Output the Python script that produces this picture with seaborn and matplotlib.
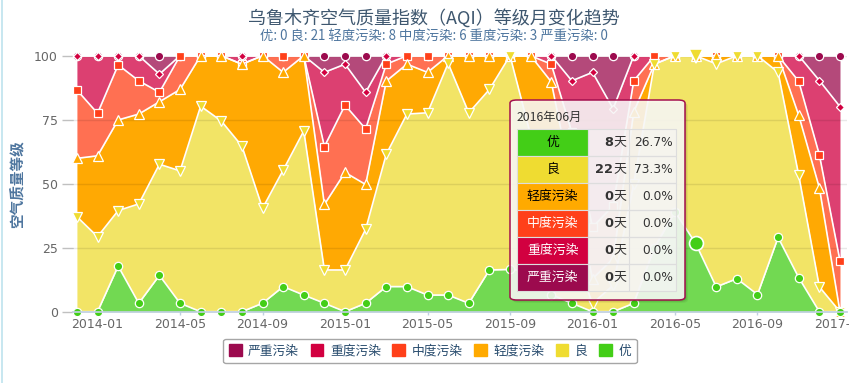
import matplotlib
matplotlib.use("Agg")
import matplotlib.pyplot as plt
from matplotlib.patches import FancyBboxPatch, Rectangle, Patch
from matplotlib.lines import Line2D
from matplotlib.transforms import Bbox
import numpy as np
import seaborn as sns

months = [
    "2013-12",
    "2014-01", "2014-02", "2014-03", "2014-04", "2014-05", "2014-06",
    "2014-07", "2014-08", "2014-09", "2014-10", "2014-11", "2014-12",
    "2015-01", "2015-02", "2015-03", "2015-04", "2015-05", "2015-06",
    "2015-07", "2015-08", "2015-09", "2015-10", "2015-11", "2015-12",
    "2016-01", "2016-02", "2016-03", "2016-04", "2016-05", "2016-06",
    "2016-07", "2016-08", "2016-09", "2016-10", "2016-11", "2016-12",
    "2017-01",
]
tick_labels = ["2014-01", "2014-05", "2014-09", "2015-01", "2015-05",
               "2015-09", "2016-01", "2016-05", "2016-09", "2017-01"]

# percentage of days per month for each level (bottom to top)
excellent = [0, 0, 17.8, 3.3, 14.2, 3.3, 0, 0, 0, 3.3, 9.8, 6.5, 3.3,
             0, 3.3, 9.8, 9.8, 6.5, 6.5, 3.3, 16.3, 16.5, 16.1, 6.7, 3.3,
             0, 0, 3.3, 25.0, 39.0, 26.7, 9.7, 12.9, 6.7, 29.0, 13.3, 0, 0]
good = [37.1, 29.3, 21.7, 38.8, 43.4, 51.7, 80.3, 74.5, 64.7, 37.1, 45.5,
        64.1, 13.0, 16.3, 28.9, 51.7, 67.4, 71.2, 90.5, 74.4, 70.5, 83.5,
        52.9, 41.3, 21.7, 3.2, 10.3, 46.7, 71.7, 61.0, 73.3, 87.1, 87.1,
        93.3, 64.5, 40.0, 9.7, 0]
light = [22.8, 31.6, 35.4, 35.1, 24.4, 31.8, 19.7, 25.5, 32.0, 59.6, 38.2,
         29.4, 25.6, 38.1, 17.5, 28.6, 19.5, 15.8, 3.0, 22.3, 13.2, 0,
         31.0, 41.8, 25.0, 9.7, 10.4, 28.1, 0, 0, 0, 3.2, 0, 0, 6.5, 23.4,
         38.7, 0]
moderate = [26.7, 16.6, 21.5, 13.0, 3.7, 13.2, 0, 0, 0, 0, 6.5, 0, 22.6,
            26.3, 21.7, 6.6, 3.3, 6.5, 0, 0, 0, 0, 0, 6.9, 20.0, 20.1,
            20.7, 12.1, 3.3, 0, 0, 0, 0, 0, 0, 13.3, 12.9, 19.9]
heavy = [13.4, 22.5, 3.6, 9.8, 7.1, 0, 0, 0, 3.3, 0, 0, 0, 29.0, 16.0,
         14.3, 3.3, 0, 0, 0, 0, 0, 0, 0, 3.3, 20.2, 60.5, 37.9, 9.8, 0, 0,
         0, 0, 0, 0, 0, 10.0, 29.0, 60.2]
severe = [0, 0, 0, 0, 7.2, 0, 0, 0, 0, 0, 0, 0, 6.5, 3.3, 14.3, 0, 0, 0, 0,
          0, 0, 0, 0, 0, 9.8, 6.5, 20.7, 0, 0, 0, 0, 0, 0, 0, 0, 0, 9.7,
          19.9]

levels = ["优", "良", "轻度污染", "中度污染", "重度污染", "严重污染"]
colors = ["#43CE17", "#EFDC31", "#FFAA00", "#FF401A", "#D20040", "#9C0A4E"]
fills = ["#72D952", "#F2E466", "#FFA903", "#FF7052", "#DC4071", "#B4497A"]
markers = ["o", "v", "^", "s", "D", "o"]
msizes = [6.0, 6.5, 6.5, 5.5, 4.5, 6.0]

# tooltip for the hovered month
hover_idx = 30
tip_title = "2016年06月"
tip_days = ["8", "22", "0", "0", "0", "0"]
tip_pct = ["26.7%", "73.3%", "0.0%", "0.0%", "0.0%", "0.0%"]

subtitle = "优: 0 良: 21 轻度污染: 8 中度污染: 6 重度污染: 3 严重污染: 0"

sns.set_theme(style="white")
plt.rcParams["font.family"] = ["Noto Sans CJK SC", "DejaVu Sans"]

W, H = 868, 383
fig = plt.figure(figsize=(W / 100, H / 100), dpi=100)


def fx(px):
    return px / W


def fy(py):
    return 1 - py / H


ax = fig.add_axes([fx(73), fy(311.7), fx(847) - fx(73), fy(55.7) - fy(311.7)])

x = np.arange(len(months))
stack = np.array([excellent, good, light, moderate, heavy, severe])
cum = np.cumsum(stack, axis=0)

for i in range(len(levels)):
    base = cum[i - 1] if i else np.zeros(len(x))
    ax.fill_between(x, base, cum[i], color=fills[i], lw=0, zorder=1)

for yv in [25, 50, 75, 100]:
    ax.axhline(yv, color="#000000", alpha=0.09, lw=1, zorder=2)

for i in range(len(levels)):
    sns.lineplot(x=x, y=cum[i], ax=ax, color="white", lw=1.2,
                 marker=markers[i], markersize=msizes[i],
                 markerfacecolor=colors[i], markeredgecolor="white",
                 markeredgewidth=0.9, zorder=10 - i, clip_on=False)

# enlarged hover markers
for i in [0, 1]:
    ax.plot(x[hover_idx], cum[i][hover_idx], marker=markers[i],
            markersize=10, markerfacecolor=colors[i],
            markeredgecolor="white", markeredgewidth=1.2, zorder=12,
            clip_on=False)

ax.set_xlim(-0.19, 37.34)
ax.set_ylim(0, 100)
ax.set_yticks([0, 25, 50, 75, 100])
ax.set_xticks([months.index(t) for t in tick_labels])
ax.set_xticklabels(tick_labels)
ax.tick_params(axis="y", left=True, length=8, width=1, color="#C0C0C0",
               labelsize=9, labelcolor="#666666", pad=3)
ax.tick_params(axis="x", bottom=True, length=5, width=1, color="#C0D0E0",
               direction="inout", labelsize=9, labelcolor="#666666", pad=2)
for lab in ax.get_xticklabels() + ax.get_yticklabels():
    lab.set_family("DejaVu Sans")
# the last date label is cut by the chart border, as in the source
clip = Bbox.from_extents(0, 0, 849, H)
for lab in ax.get_xticklabels():
    lab.set_clip_box(clip)
    lab.set_clip_on(True)
for side in ["top", "right", "left"]:
    ax.spines[side].set_visible(False)
ax.spines["bottom"].set_color("#C0D0E0")
ax.spines["bottom"].set_zorder(20)
ax.set_xlabel("")
ax.set_ylabel("空气质量等级", fontsize=10.5, fontweight="bold", color="#4D759E",
              labelpad=6)

fig.text(0.5, fy(18), "乌鲁木齐空气质量指数（AQI）等级月变化趋势",
         ha="center", va="center", fontsize=13, color="#3E576F")
fig.text(0.5, fy(36), subtitle, ha="center", va="center", fontsize=9.6,
         color="#4D759E")

# left border line
fig.add_artist(Line2D([fx(1.5), fx(1.5)], [0, 1], color="#BDE3EE", lw=1.2))

# tooltip with a soft shadow
for k, a in [(3, 0.05), (2, 0.07), (1, 0.09)]:
    fig.add_artist(FancyBboxPatch((fx(510 + k), fy(300 + k)), fx(685) - fx(510),
                                  fy(100) - fy(300),
                                  boxstyle="round,pad=0,rounding_size=0.008",
                                  transform=fig.transFigure, facecolor="black",
                                  alpha=a, edgecolor="none", zorder=29))
box = FancyBboxPatch((fx(510), fy(300)), fx(685) - fx(510), fy(100) - fy(300),
                     boxstyle="round,pad=0,rounding_size=0.008",
                     transform=fig.transFigure, facecolor="#FFFFFF",
                     alpha=0.86, edgecolor="none", zorder=30)
fig.add_artist(box)
fig.add_artist(FancyBboxPatch((fx(510), fy(300)), fx(685) - fx(510),
                              fy(100) - fy(300),
                              boxstyle="round,pad=0,rounding_size=0.008",
                              transform=fig.transFigure, facecolor="none",
                              edgecolor="#A3114F", lw=1.1, zorder=31))
fig.text(fx(517), fy(117), tip_title, ha="left", va="center", fontsize=8.8,
         color="#333333", zorder=32)

col_x = [517.3, 588, 629, 676]
row_top = 129.3
row_h = 27
for r in range(len(levels)):
    y0 = row_top + r * row_h
    fig.add_artist(Rectangle((fx(col_x[0]), fy(y0 + row_h)),
                             fx(col_x[1]) - fx(col_x[0]), row_h / H,
                             transform=fig.transFigure, facecolor=colors[r],
                             edgecolor="#DDDDDD", lw=0.8, zorder=32))
    fig.add_artist(Rectangle((fx(col_x[1]), fy(y0 + row_h)),
                             fx(col_x[3]) - fx(col_x[1]), row_h / H,
                             transform=fig.transFigure, facecolor="#F5F5F5",
                             alpha=0.55, edgecolor="none", zorder=32))
    for cx in col_x[1:]:
        fig.add_artist(Line2D([fx(cx), fx(cx)], [fy(y0), fy(y0 + row_h)],
                              color="#DDDDDD", lw=0.8, zorder=33))
    fig.add_artist(Line2D([fx(col_x[1]), fx(col_x[3])],
                          [fy(y0 + row_h), fy(y0 + row_h)],
                          color="#DDDDDD", lw=0.8, zorder=33))
    fig.add_artist(Line2D([fx(col_x[1]), fx(col_x[3])], [fy(y0), fy(y0)],
                          color="#DDDDDD", lw=0.8, zorder=33))
    yc = fy(y0 + row_h / 2)
    tcol = "black" if r < 3 else "white"
    fig.text(fx((col_x[0] + col_x[1]) / 2), yc, levels[r], ha="center",
             va="center", fontsize=9.3, color=tcol, zorder=34)
    fig.text(fx(613), yc, tip_days[r], ha="right", va="center", fontsize=9.3,
             fontweight="bold", color="#333333", zorder=34,
             family="DejaVu Sans")
    fig.text(fx(613), yc, "天", ha="left", va="center", fontsize=9.3,
             color="#333333", zorder=34)
    fig.text(fx(673), yc, tip_pct[r], ha="right", va="center", fontsize=8.8,
             color="#333333", zorder=34, family="DejaVu Sans")

# legend (reverse order, like the source)
handles = [Patch(facecolor=colors[i], edgecolor=colors[i]) for i in range(5, -1, -1)]
labels = [levels[i] for i in range(5, -1, -1)]
leg = fig.legend(handles, labels, loc="center", bbox_to_anchor=(fx(430), fy(351)),
                 ncol=6, frameon=True, fancybox=True, fontsize=9.2,
                 handlelength=1.0, handleheight=1.0, columnspacing=0.9,
                 handletextpad=0.5, borderpad=0.45, labelcolor="#274B6D")
leg.get_frame().set_edgecolor("#909090")
leg.get_frame().set_linewidth(1.0)

fig.savefig("out.png", dpi=100)
